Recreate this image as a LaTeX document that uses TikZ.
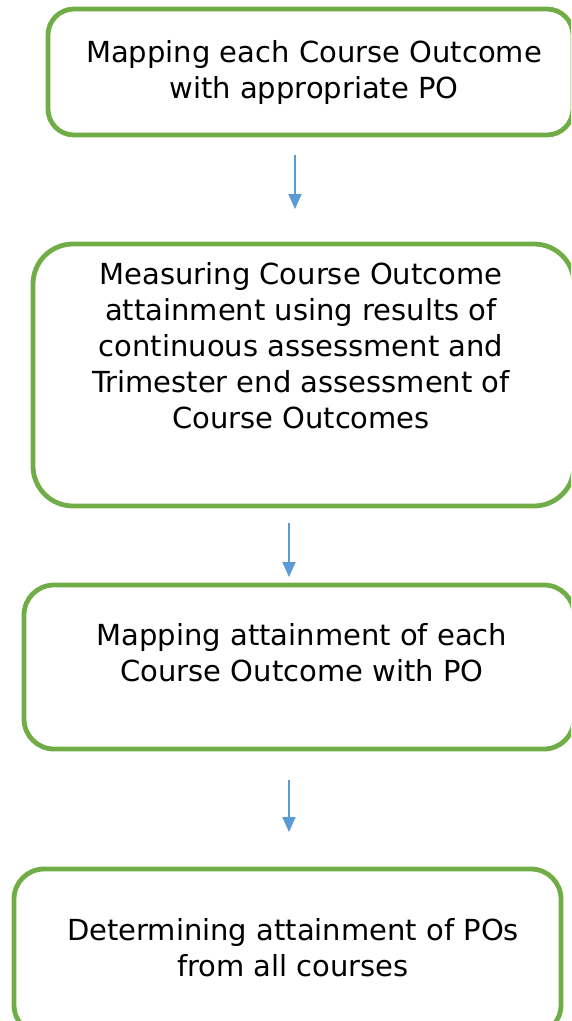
\documentclass[tikz,border=0pt]{standalone}
\usepackage{fontspec}
\setmainfont{DejaVu Sans}
\usetikzlibrary{arrows.meta,positioning}
\definecolor{boxgreen}{HTML}{70AD47}
\definecolor{arrowblue}{HTML}{5B9BD5}

\begin{document}
\begin{tikzpicture}[x=1pt,y=1pt]
\tikzstyle{stepbox}=[draw=boxgreen,line width=4.8pt,rectangle,outer sep=0pt,inner sep=0pt]
\tikzstyle{steptext}=[align=center,font=\fontsize{29}{36}\selectfont,inner sep=0pt]
\tikzstyle{flow}=[draw=arrowblue,line width=2pt,-{Triangle[length=15pt,width=13pt]}]

\useasboundingbox (0,0) rectangle (571,-1021);
\clip (0,0) rectangle (571,-1021);

% boxes
\node[stepbox,rounded corners=26pt,minimum width=525pt,minimum height=126pt] (b1) at (310.5,-72) {};
\node[stepbox,rounded corners=40pt,minimum width=541pt,minimum height=262pt] (b2) at (303.5,-375) {};
\node[stepbox,rounded corners=30pt,minimum width=550pt,minimum height=164pt] (b3) at (299,-667) {};
\node[stepbox,rounded corners=30pt,minimum width=547pt,minimum height=166pt] (b4) at (287.5,-952) {};

% texts
\node[steptext] (t1) at (314,-72) {Mapping each Course Outcome\\with appropriate PO};
\node[steptext] (t2) at (301,-346) {Measuring Course Outcome\\attainment using results of\\continuous assessment and\\Trimester end assessment of\\Course Outcomes};
\node[steptext] (t3) at (302,-653) {Mapping attainment of each\\Course Outcome with PO};
\node[steptext] (t4) at (293,-948) {Determining attainment of POs\\from all courses};

% arrows
\draw[flow] ([xshift=-15.5pt,yshift=-20pt]b1.south) -- ([xshift=-8.5pt,yshift=35pt]b2.north);
\draw[flow] ([xshift=-14.5pt,yshift=-17pt]b2.south) -- ([xshift=-10pt,yshift=8pt]b3.north);
\draw[flow] ([xshift=-10pt,yshift=-31pt]b3.south) -- ([xshift=1.5pt,yshift=37pt]b4.north);
\end{tikzpicture}
\end{document}
